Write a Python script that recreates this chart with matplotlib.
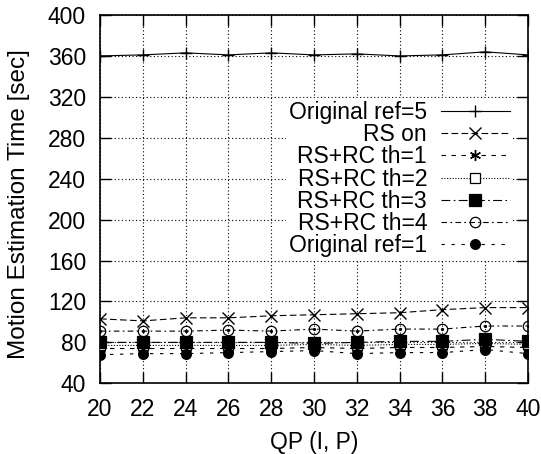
import matplotlib
matplotlib.use("Agg")
import matplotlib.pyplot as plt

plt.rcParams['font.family'] = ['Liberation Sans', 'DejaVu Sans']

qp = [20, 22, 24, 26, 28, 30, 32, 34, 36, 38, 40]
ref5 = [360, 361, 363, 361, 363, 361, 362, 360, 361, 364, 361]
rs_on = [103, 101, 104, 104, 106, 107, 108, 109, 112, 114, 114]
th1 = [74, 74, 74, 74, 74, 75, 74, 75, 75, 76, 75]
th2 = [77, 77, 77, 77, 77, 78, 77, 78, 78, 79, 78]
th3 = [80, 80, 80, 80, 80, 79, 80, 81, 81, 83, 81]
th4 = [91, 91, 91, 92, 91, 93, 91, 93, 93, 96, 96]
ref1 = [68, 69, 69, 70, 71, 72, 69, 70, 70, 73, 69]

labels = ["Original ref=5", "RS on", "RS+RC th=1", "RS+RC th=2",
          "RS+RC th=3", "RS+RC th=4", "Original ref=1"]
yticks = [40, 80, 120, 160, 200, 240, 280, 320, 360, 400]

FS = 16.5

fig = plt.figure(figsize=(5.41, 4.54), dpi=100)
ax = fig.add_axes([100/541, 1-383.3/454, 428/541, (383.3-15)/454])

lw = 0.8
styles = [
    dict(ls='-', marker='+', ms=9, mfc='none', mew=1.0),
    dict(ls=(0, (6, 3)), marker='x', ms=8, mfc='none', mew=1.0),
    dict(ls=(0, (4, 5)), marker=(6, 2, 0), ms=8, mfc='none', mew=1.0),
    dict(ls=(0, (1, 1.5)), marker='s', ms=7.5, mfc='white', mew=0.9),
    dict(ls=(0, (8, 3, 1.5, 3)), marker='s', ms=8, mfc='black', mew=0.9),
    dict(ls=(0, (5, 3, 1.5, 3)), marker='o', ms=7.5, mfc='none', mew=0.9),
    dict(ls=(0, (3, 6)), marker='o', ms=7, mfc='black', mew=0.9),
]
series = [ref5, rs_on, th1, th2, th3, th4, ref1]
for i, (ys, st, lab) in enumerate(zip(series, styles, labels)):
    ax.plot(qp, ys, color='black', lw=lw, label=lab, mec='black', zorder=3 + i, **st)
    if i == 5:
        ax.plot(qp, ys, ls='none', marker='o', ms=1.3, color='black', zorder=3 + i)

ax.set_xlim(20, 40)
ax.set_ylim(40, 400)
ax.set_xticks(qp)
ax.set_yticks(yticks)
ax.tick_params(direction='in', length=8, width=1, top=True, right=True,
               labeltop=False, labelright=False, labelsize=FS)
ax.tick_params(axis='x', pad=10.5)
ax.tick_params(axis='y', pad=10)
ax.grid(True, color='black', ls=(0, (1, 2.2)), lw=0.8)
for s in ax.spines.values():
    s.set_linewidth(1.2)

ax.set_xlabel("QP (I, P)", fontsize=FS, labelpad=7)
ax.set_ylabel("Motion Estimation Time [sec]", fontsize=17.5)
ax.yaxis.set_label_coords(-0.163, 0.487)

leg = ax.legend(loc='upper right', bbox_to_anchor=(0.965, 0.775), markerfirst=False,
                fontsize=FS, frameon=True, fancybox=False, framealpha=1,
                edgecolor='none', handlelength=3.0, handletextpad=0.6,
                labelspacing=-0.04, borderpad=0.15, borderaxespad=0)
leg.set_zorder(20)

fig.savefig("out.png", dpi=100)
